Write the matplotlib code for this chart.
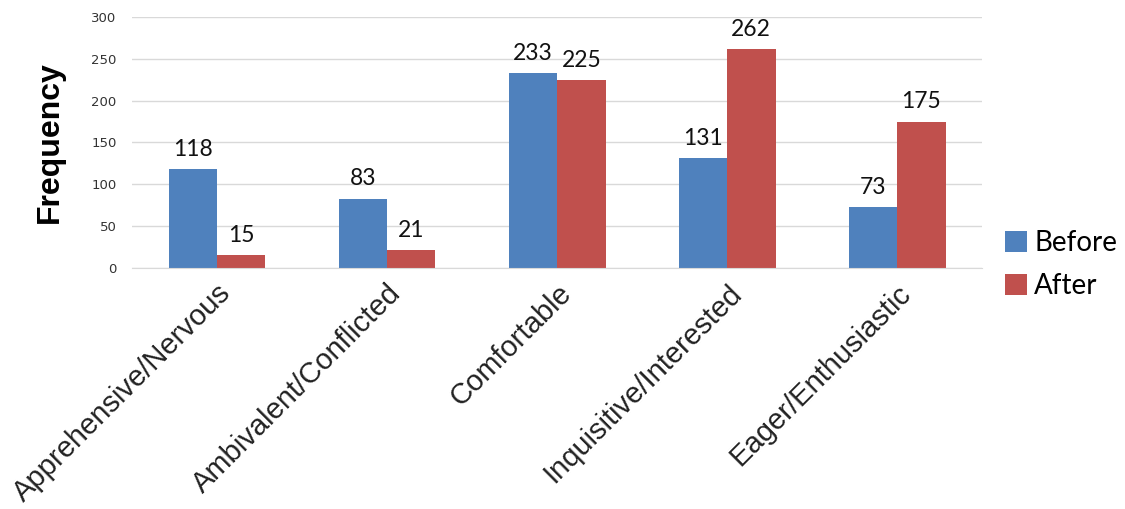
import numpy as np
import matplotlib.pyplot as plt

categories = ['Apprehensive/Nervous', 'Ambivalent/Conflicted', 'Comfortable',
              'Inquisitive/Interested', 'Eager/Enthusiastic']
before = [118, 83, 233, 131, 73]
after = [15, 21, 225, 262, 175]
y_ticks = [0, 50, 100, 150, 200, 250, 300]

BLUE = '#4F81BD'
RED = '#C0504D'

fig = plt.figure(figsize=(11.25, 5.09), dpi=100)
ax = fig.add_axes([0.1173, 0.4735, 0.7557, 0.4931])

x = np.arange(len(categories))
w = 0.285
b1 = ax.bar(x - w / 2, before, w, color=BLUE, label='Before')
b2 = ax.bar(x + w / 2, after, w, color=RED, label='After')

for bars, vals in ((b1, before), (b2, after)):
    for rect, v in zip(bars, vals):
        ax.text(rect.get_x() + rect.get_width() / 2, v + 11, str(v),
                ha='center', va='bottom', fontsize=16.5, family='Lato', color='#111111')

ax.set_xlim(-0.5, len(categories) - 0.5)
ax.set_ylim(0, 300)
ax.set_yticks(y_ticks)
ax.tick_params(axis='y', length=0, labelsize=9.5, labelcolor='#333333', pad=11)
ax.tick_params(axis='x', length=0, pad=8)
ax.set_xticks(x)
ax.set_xticklabels(categories, rotation=45, ha='right', rotation_mode='anchor',
                   fontsize=21, family='Liberation Sans', color='#222222')
ax.yaxis.grid(True, color='#D9D9D9', linewidth=1)
ax.set_axisbelow(True)
for s in ('top', 'right', 'left'):
    ax.spines[s].set_visible(False)
ax.spines['bottom'].set_color('#D9D9D9')

ax.set_ylabel('Frequency', fontsize=23, fontweight='bold', family='Liberation Sans',
              labelpad=19)

leg = fig.legend(handles=[b1, b2], loc='upper left', bbox_to_anchor=(0.871, 0.597),
                 frameon=False, prop={'family': 'Lato', 'size': 20},
                 handlelength=0.8, handleheight=0.8, handletextpad=0.25, labelspacing=0.62)

fig.savefig('out.png', dpi=100)
